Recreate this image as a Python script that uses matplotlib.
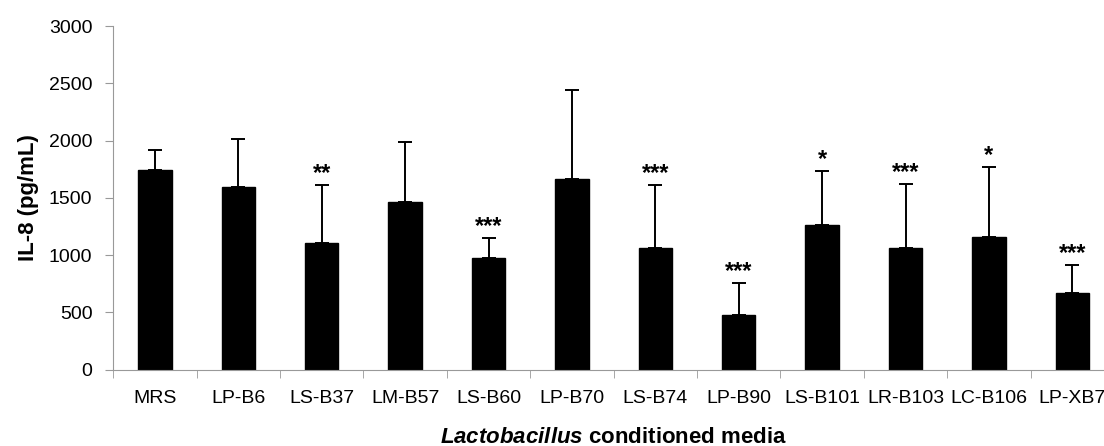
import matplotlib
matplotlib.use("Agg")
import matplotlib.pyplot as plt
import numpy as np

plt.rcParams["font.family"] = ["Liberation Sans", "DejaVu Sans"]
plt.rcParams["mathtext.fontset"] = "custom"
plt.rcParams["mathtext.bfit"] = "Liberation Sans:italic:bold"
plt.rcParams["mathtext.rm"] = "Liberation Sans"

# Data
media = ["MRS", "LP-B6", "LS-B37", "LM-B57", "LS-B60", "LP-B70",
         "LS-B74", "LP-B90", "LS-B101", "LR-B103", "LC-B106", "LP-XB7"]
il8 = [1740, 1596, 1109, 1462, 978, 1663, 1059, 473, 1258, 1065, 1156, 668]
il8_sd = [181, 418, 499, 528, 172, 774, 549, 286, 478, 552, 610, 243]
stars = ["", "", "**", "", "***", "", "***", "***", "*", "***", "*", "***"]

fig = plt.figure(figsize=(11.04, 4.46), dpi=100)
ax = fig.add_axes([0.1026, 0.1715, 0.9065, 0.7702])

x = np.arange(len(media))
ax.bar(x, il8, width=0.4, color="black", edgecolor="black", zorder=2)
ax.errorbar(x, il8, yerr=[np.zeros(len(il8)), il8_sd], fmt="none",
            ecolor="black", elinewidth=1.4, capsize=5, capthick=1.4, zorder=3)

# significance marks above the error caps
for xi, v, e, s in zip(x, il8, il8_sd, stars):
    if s:
        ax.text(xi, v + e, s, ha="center", va="bottom", fontsize=17,
                fontweight="bold")

ax.set_xlim(-0.5, len(media) - 0.5)
ax.set_ylim(0, 3000)
ax.set_yticks(np.arange(0, 3001, 500))
ax.tick_params(axis="y", labelsize=14, length=6, pad=9, color="#999999",
               direction="out")

ax.set_xticks(x)
ax.set_xticklabels(media)
ax.tick_params(axis="x", which="major", labelsize=14, length=0, pad=15)
ax.set_xticks(np.arange(-0.5, len(media), 1), minor=True)
ax.tick_params(axis="x", which="minor", length=6, color="#999999",
               direction="out")

for side in ["top", "right"]:
    ax.spines[side].set_visible(False)
for side in ["left", "bottom"]:
    ax.spines[side].set_color("#999999")

ax.set_ylabel("IL-8 (pg/mL)", fontsize=16, fontweight="bold", labelpad=7)
ax.set_xlabel(r"$\mathbfit{Lactobacillus}$ conditioned media", fontsize=16,
              fontweight="bold", labelpad=14)

plt.savefig("out.png", dpi=100)
plt.close()
